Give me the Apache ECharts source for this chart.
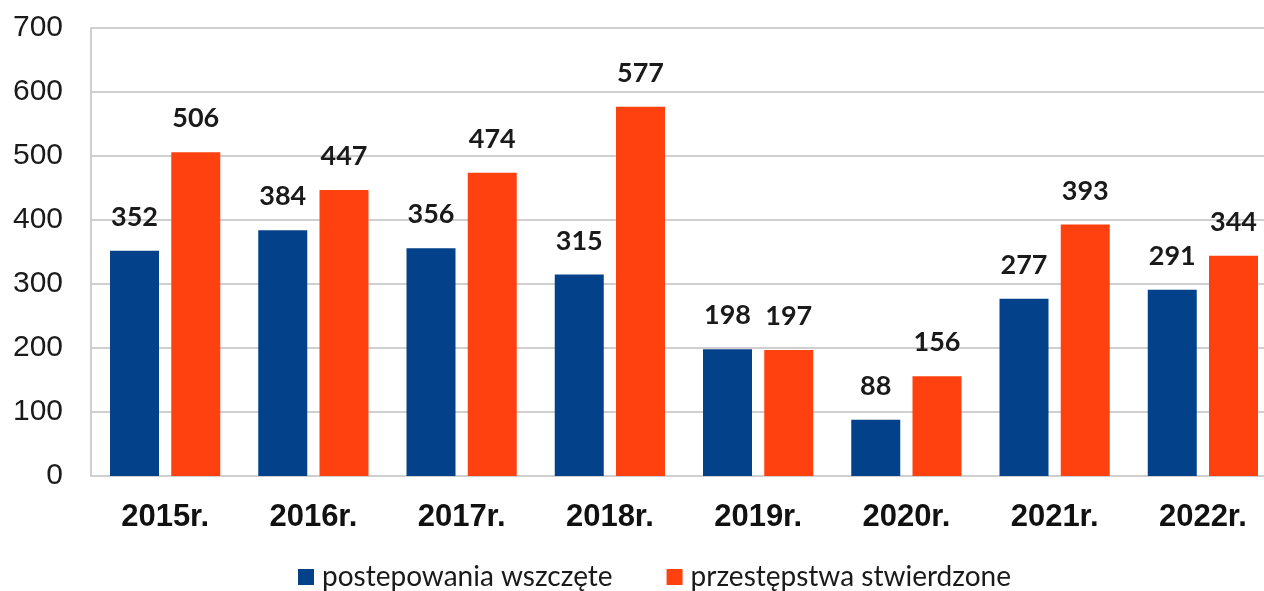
<!DOCTYPE html>
<html>
<head>
<meta charset="utf-8">
<script src="https://cdn.jsdelivr.net/npm/echarts@6/dist/echarts.min.js"></script>
<style>
  html, body { margin: 0; padding: 0; background: #fff; overflow: hidden; }
  /* wykres celowo szerszy niz okno - prawa krawedz jest przycieta jak w oryginale */
  #MyChart { width: 1277px; height: 591px; }
</style>
</head>
<body>
<div id="MyChart"></div>
<script>
// lata
var categories = ['2015r.', '2016r.', '2017r.', '2018r.', '2019r.', '2020r.', '2021r.', '2022r.'];
// postepowania wszczete
var wszczete = [352, 384, 356, 315, 198, 88, 277, 291];
// przestepstwa stwierdzone
var stwierdzone = [506, 447, 474, 577, 197, 156, 393, 344];
var yTicks = [0, 100, 200, 300, 400, 500, 600, 700];

var myChart = echarts.init(document.getElementById('MyChart'));

var labelStyle = {
    show: true,
    position: 'top',
    distance: 20,
    fontFamily: 'Lato',
    fontWeight: 'bold',
    fontSize: 27,
    color: '#1a1a1a'
};

var option = {
    animation: false,
    backgroundColor: '#fff',
    grid: {
        left: 91,
        top: 28,
        right: 0,
        bottom: 115
    },
    legend: {
        top: 558,
        left: 293,
        itemWidth: 16,
        itemHeight: 16,
        itemGap: 54,
        icon: 'rect',
        textStyle: {
            fontFamily: 'Lato',
            fontSize: 28,
            color: '#1a1a1a',
            padding: [0, 0, 0, 3]
        },
        data: ['postepowania wszczęte', 'przestępstwa stwierdzone']
    },
    xAxis: {
        type: 'category',
        data: categories,
        axisLine: { show: true, lineStyle: { color: '#cfcfcf', width: 2 } },
        axisTick: { show: false },
        axisLabel: {
            margin: 26,
            fontFamily: 'Liberation Sans',
            fontWeight: 'bold',
            fontSize: 31,
            color: '#111'
        }
    },
    yAxis: {
        type: 'value',
        min: yTicks[0],
        max: yTicks[yTicks.length - 1],
        interval: 100,
        axisLine: { show: true, lineStyle: { color: '#cfcfcf', width: 2 } },
        axisTick: { show: false },
        splitLine: { lineStyle: { color: '#cfcfcf', width: 2 } },
        axisLabel: {
            margin: 28,
            fontFamily: 'Liberation Sans',
            fontSize: 30,
            color: '#1a1a1a'
        }
    },
    series: [
        {
            name: 'postepowania wszczęte',
            type: 'bar',
            barWidth: 49,
            barGap: '25%',
            itemStyle: { color: '#03428A' },
            label: labelStyle,
            data: wszczete
        },
        {
            name: 'przestępstwa stwierdzone',
            type: 'bar',
            barWidth: 49,
            barGap: '25%',
            itemStyle: { color: '#FF410F' },
            label: labelStyle,
            data: stwierdzone
        }
    ]
};
myChart.setOption(option);
</script>
</body>
</html>
